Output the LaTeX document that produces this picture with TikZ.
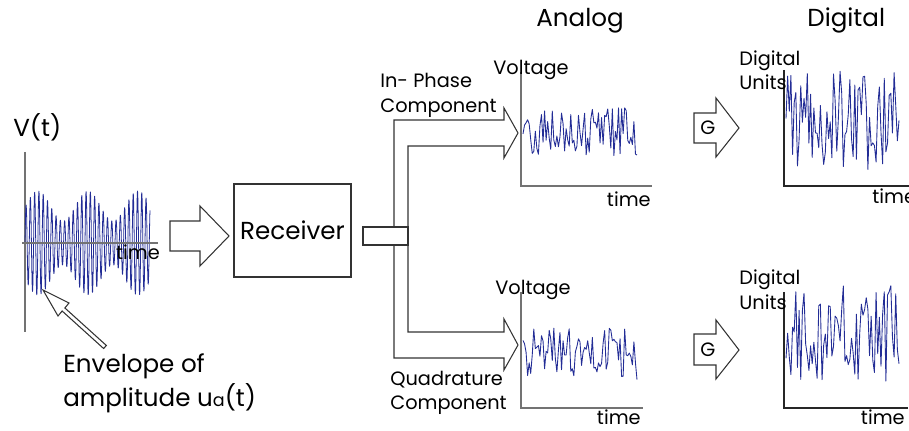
\documentclass[tikz,border=0pt]{standalone}
\usepackage{fontspec}
\setmainfont{Poppins}
\usetikzlibrary{positioning}
\definecolor{sigblue}{RGB}{35,45,150}
\definecolor{axisgray}{RGB}{115,115,115}

\begin{document}
\begin{tikzpicture}[
        x=0.02cm, y=-0.02cm,
        lbl/.style={inner sep=0pt, font=\fontsize{11}{13}\selectfont},
        biglbl/.style={inner sep=0pt, font=\fontsize{14}{16}\selectfont},
        axis/.style={draw=axisgray, line width=0.8pt},
        blockarrow/.style={draw=black!80, line width=0.6pt, line join=miter},
        signal/.style={draw=sigblue, line width=0.5pt, line join=round},
        box/.style={draw=black!80, line width=0.6pt}
    ]
        \useasboundingbox (0,0) rectangle (909,431);
        \clip (0,0) rectangle (909,431);

        % received signal
        \node[biglbl, anchor=base west] (vt) at (13,137) {V(t)};
        \coordinate (vtop) at (25,152);
        \coordinate (vbot) at (25,332);
        \coordinate (tleft) at (22,243);
        \coordinate (tright) at (158,243);
        \draw[axis] (vtop) -- (vbot);
        \draw[signal, line width=0.45pt] plot[samples=700, domain=25:150]
            (\x, {243 - (37+15*cos((\x-38)*7.2))*sin((\x-25)*84)});
        \draw[axis] (tleft) -- (tright);
        \node[lbl, anchor=base] (vtime) at (138,260) {time};

        % envelope pointer
        \coordinate (envtip) at (43,290);
        \draw[blockarrow, fill=white] (envtip) -- (69,303) -- (64.9,308) -- (106.4,345.5)
            -- (103.6,348.5) -- (62.1,311) -- (58,316) -- cycle;
        \node[biglbl, anchor=base west] (env1) at (63,373) {Envelope of};
        \node[biglbl, anchor=base west] (env2) at (63,407)
            {amplitude u{\fontsize{10}{10}\selectfont a}(t)};

        % receiver
        \draw[blockarrow] (170,221) -- (200,221) -- (200,206) -- (229,236)
            -- (200,266) -- (200,251) -- (170,251) -- cycle;
        \node[box, biglbl, minimum width=2.34cm, minimum height=1.86cm] (rx) at (292.5,230.5) {Receiver};

        % splitter
        \node[box, minimum width=0.9cm, minimum height=0.36cm, inner sep=0pt] (split) at (385.5,236) {};
        \draw[blockarrow] (394,227) -- (394,120) -- (504,120) -- (504,108) -- (518,133)
            -- (504,158) -- (504,146) -- (408,146) -- (408,227);
        \draw[blockarrow] (394,245) -- (394,358) -- (504,358) -- (504,370) -- (518,345)
            -- (504,319) -- (504,332) -- (408,332) -- (408,245);
        \node[lbl, anchor=base west] (inph) at (380,88) {In- Phase};
        \node[lbl, anchor=base west] (inphc) at (380,113) {Component};
        \node[lbl, anchor=base west] (quad) at (390,386) {Quadrature};
        \node[lbl, anchor=base west] (quadc) at (390,410) {Component};

        % analog
        \node[biglbl, anchor=base west] (analog) at (536,27) {Analog};
        \draw[axis] (521,72) -- (521,186) -- (652,186);
        \node[lbl, anchor=base west] (volt1) at (493,75) {Voltage};
        \node[lbl, anchor=base east] (atime1) at (651,207) {time};
        \pgfmathsetseed{11}
        \draw[signal] plot[samples=75, domain=523:637] (\x, {133+26*rand});

        \draw[axis] (521,292) -- (521,408) -- (643,408);
        \node[lbl, anchor=base west] (volt2) at (495,295) {Voltage};
        \node[lbl, anchor=base east] (atime2) at (641,425) {time};
        \pgfmathsetseed{23}
        \draw[signal] plot[samples=75, domain=523:637] (\x, {354+26*rand});

        % gain
        \draw[blockarrow] (694,113) -- (716,113) -- (716,98) -- (739,128)
            -- (716,157) -- (716,143) -- (694,143) -- cycle;
        \node[lbl] (g1) at (708,128) {G};
        \draw[blockarrow] (694,334) -- (716,334) -- (716,320) -- (739,350)
            -- (716,379) -- (716,365) -- (694,365) -- cycle;
        \node[lbl] (g2) at (708,350) {G};

        % digital
        \node[biglbl, anchor=base west] (digital) at (807,27) {Digital};
        \draw[axis, draw=black!85] (784,70) -- (784,186) -- (909,186);
        \node[lbl, anchor=base west] (du1) at (739,66) {Digital};
        \node[lbl, anchor=base west] (du1b) at (739,90) {Units};
        \node[lbl, anchor=base west] (dtime1) at (872,204) {time};
        \pgfmathsetseed{5}
        \draw[signal] plot[samples=70, domain=786:899] (\x, {121+50*rand});

        \draw[axis, draw=black!85] (784,292) -- (784,408) -- (908,408);
        \node[lbl, anchor=base west] (du2) at (739,285) {Digital};
        \node[lbl, anchor=base west] (du2b) at (739,310) {Units};
        \node[lbl, anchor=base east] (dtime2) at (905,425) {time};
        \pgfmathsetseed{37}
        \draw[signal] plot[samples=70, domain=786:899] (\x, {335+50*rand});
\end{tikzpicture}
\end{document}
